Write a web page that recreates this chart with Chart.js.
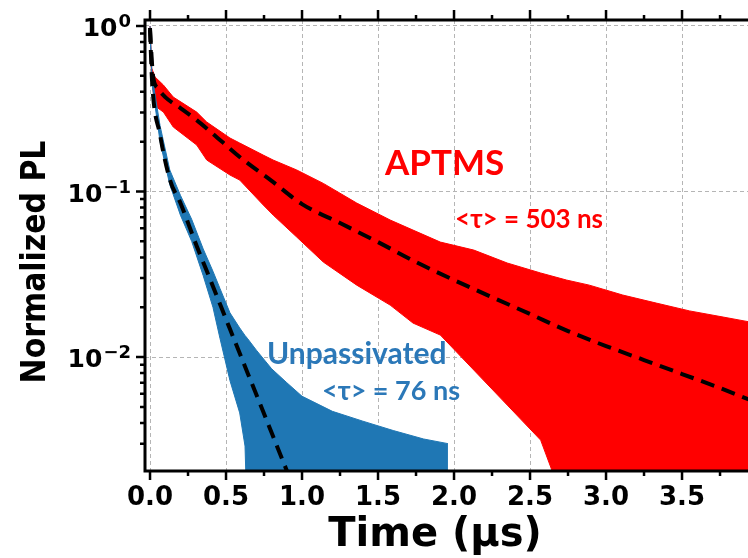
<!DOCTYPE html>
<html>
<head>
<meta charset="utf-8">
<script src="https://cdn.jsdelivr.net/npm/chart.js@4.4.0/dist/chart.umd.min.js"></script>
<style>
body { margin: 0; background: #fff; }
canvas { display: block; }
</style>
</head>
<body>
<canvas id="c" width="748" height="558"></canvas>
<script>
// APTMS decay, noise band (upper / lower edge)
var redTime  = [0, 0.011, 0.033, 0.088, 0.153, 0.307, 0.373, 0.526, 0.59, 0.745, 0.81, 0.965, 1.14, 1.36, 1.58, 1.73, 1.91, 2.13, 2.35, 2.57, 2.74, 2.89, 3.11, 3.33, 3.55, 3.77, 3.95];
var redUpper = [1.0, 0.557, 0.492, 0.44, 0.372, 0.302, 0.263, 0.2105, 0.1964, 0.166, 0.155, 0.135, 0.112, 0.0852, 0.0673, 0.0585, 0.0495, 0.0443, 0.037, 0.0322, 0.0292, 0.0272, 0.0237, 0.0212, 0.019, 0.01745, 0.01627];
var redLower = [0.946, 0.472, 0.3286, 0.302, 0.2453, 0.191, 0.155, 0.1258, 0.1173, 0.0829, 0.0721, 0.0531, 0.0375, 0.0272, 0.0206, 0.01605, 0.01358, 0.00835, 0.00513, 0.00315, 0.0012, 0.001, 0.001, 0.001, 0.001, 0.001, 0.001];

// unpassivated decay
var blueTime  = [0, 0.013, 0.066, 0.13, 0.2, 0.274, 0.35, 0.414, 0.46, 0.526, 0.59, 0.625, 0.64, 0.7, 0.8, 0.9, 1.0, 1.2, 1.4, 1.6, 1.8, 1.96];
var blueUpper = [1.0, 0.5, 0.25, 0.135, 0.095, 0.068, 0.045, 0.033, 0.026, 0.0185, 0.015, 0.0135, 0.013, 0.011, 0.0085, 0.007, 0.0058, 0.0047, 0.0041, 0.0036, 0.0032, 0.003];
var blueLower = [0.93, 0.45, 0.2, 0.11, 0.072, 0.05, 0.031, 0.02, 0.013, 0.0072, 0.0046, 0.0029, 0.001, 0.001, 0.001, 0.001, 0.001, 0.001, 0.001, 0.001, 0.001, 0.001];

// fits (dashed)
var redFitTime = [0, 0.02, 0.05, 0.1, 0.2, 0.307, 0.4, 0.6, 0.8, 1.0, 1.25, 1.5, 1.75, 2.0, 2.25, 2.5, 2.75, 3.0, 3.25, 3.5, 3.75, 3.95];
var redFit     = [0.946, 0.499, 0.422, 0.372, 0.3195, 0.27, 0.229, 0.159, 0.116, 0.084, 0.0645, 0.0495, 0.0375, 0.0292, 0.023, 0.0182, 0.01436, 0.01165, 0.0096, 0.0079, 0.0065, 0.0055];
var blueFitTime = [0, 0.013, 0.066, 0.132, 0.2, 0.307, 0.4, 0.526, 0.743, 0.901, 0.95];
var blueFit     = [0.973, 0.472, 0.22, 0.117, 0.0852, 0.0469, 0.0288, 0.01476, 0.00472, 0.00205, 0.0016];

// axes
var xTicks = [0, 0.5, 1.0, 1.5, 2.0, 2.5, 3.0, 3.5];
var xMinorTicks = [0.25, 0.75, 1.25, 1.75, 2.25, 2.75, 3.25, 3.75];
var yTicks = [0.01, 0.1, 1];
var yTickExp = ['\u22122', '\u22121', '0'];
var yMinorTicks = [0.003, 0.004, 0.005, 0.006, 0.007, 0.008, 0.009,
                   0.02, 0.03, 0.04, 0.05, 0.06, 0.07, 0.08, 0.09,
                   0.2, 0.3, 0.4, 0.5, 0.6, 0.7, 0.8, 0.9];
var xTitle = 'Time (\u00B5s)';
var yTitle = 'Normalized PL';

// text in the plot: [text, time, value, colour, size]
var notes = [
    ['APTMS', 1.546, 0.1258, '#ff0000', 35],
    ['<\u03C4> = 503 ns', 2.007, 0.0602, '#ff0000', 26],
    ['Unpassivated', 0.77, 0.00907, '#2b78b8', 30],
    ['<\u03C4> = 76 ns', 1.132, 0.0055, '#2b78b8', 27]
];

function pts(xs, ys) {
    return xs.map(function (x, i) { return {x: x, y: ys[i]}; });
}

var RED = '#ff0000';
var BLUE = '#1f77b4';
var FONT = "'DejaVu Sans', sans-serif";

var frame = {
    id: 'frame',
    afterDatasetsDraw: function (chart) {
        var ctx = chart.ctx, a = chart.chartArea;
        var xs = chart.scales.x, ys = chart.scales.y;
        ctx.save();
        ctx.strokeStyle = '#000';
        ctx.lineWidth = 3;
        ctx.beginPath();
        ctx.moveTo(a.left, a.bottom + 1.5); ctx.lineTo(a.left, a.top - 1.5);
        ctx.moveTo(a.left - 1.5, a.top); ctx.lineTo(a.right, a.top);
        ctx.moveTo(a.left - 1.5, a.bottom); ctx.lineTo(a.right, a.bottom);
        ctx.stroke();

        ctx.lineWidth = 2.5;
        ctx.beginPath();
        xTicks.forEach(function (v) {
            var p = xs.getPixelForValue(v);
            ctx.moveTo(p, a.bottom); ctx.lineTo(p, a.bottom + 9);
            ctx.moveTo(p, a.top); ctx.lineTo(p, a.top - 10);
        });
        xMinorTicks.forEach(function (v) {
            var p = xs.getPixelForValue(v);
            ctx.moveTo(p, a.bottom); ctx.lineTo(p, a.bottom + 5);
            ctx.moveTo(p, a.top); ctx.lineTo(p, a.top - 5);
        });
        yTicks.forEach(function (v) {
            var p = ys.getPixelForValue(v);
            ctx.moveTo(a.left, p); ctx.lineTo(a.left - 9, p);
        });
        yMinorTicks.forEach(function (v) {
            var p = ys.getPixelForValue(v);
            ctx.moveTo(a.left, p); ctx.lineTo(a.left - 5, p);
        });
        ctx.stroke();

        // y tick labels as 10 with a raised exponent
        ctx.fillStyle = '#000';
        ctx.textAlign = 'right';
        ctx.textBaseline = 'alphabetic';
        yTicks.forEach(function (v, i) {
            var p = ys.getPixelForValue(v);
            var xr = a.left - 14;
            ctx.font = 'bold 18px ' + FONT;
            ctx.fillText(yTickExp[i], xr, p + 1);
            var w = ctx.measureText(yTickExp[i]).width;
            ctx.font = 'bold 25px ' + FONT;
            ctx.fillText('10', xr - w - 1, p + 10);
        });

        // axis titles
        ctx.textAlign = 'center';
        ctx.font = 'bold 40px ' + FONT;
        ctx.fillText(xTitle, 435, 546);
        ctx.save();
        ctx.translate(45, 262);
        ctx.rotate(-Math.PI / 2);
        ctx.scale(0.88, 1);
        ctx.font = 'bold 34px ' + FONT;
        ctx.fillText(yTitle, 0, 0);
        ctx.restore();

        notes.forEach(function (n) {
            ctx.fillStyle = n[3];
            ctx.font = 'bold ' + n[4] + "px Lato, 'Open Sans', sans-serif";
            ctx.textAlign = 'left';
            ctx.textBaseline = 'alphabetic';
            ctx.fillText(n[0], xs.getPixelForValue(n[1]), ys.getPixelForValue(n[2]));
        });
        ctx.restore();
    }
};

var ctx = document.getElementById('c');
var chart = new Chart(ctx, {
    type: 'line',
    data: {
        datasets: [
            { data: pts(redFitTime, redFit), borderColor: '#000', borderWidth: 4, borderDash: [14, 8],
              cubicInterpolationMode: 'monotone', fill: false, order: 0 },
            { data: pts(blueFitTime, blueFit), borderColor: '#000', borderWidth: 4, borderDash: [14, 8],
              cubicInterpolationMode: 'monotone', fill: false, order: 0 },
            { data: pts(blueTime, blueUpper), borderColor: BLUE, backgroundColor: BLUE, borderWidth: 1,
              fill: '+1', order: 1 },
            { data: pts(blueTime, blueLower), borderColor: BLUE, borderWidth: 1, fill: false, order: 1 },
            { data: pts(redTime, redUpper), borderColor: RED, backgroundColor: RED, borderWidth: 1,
              fill: '+1', order: 2 },
            { data: pts(redTime, redLower), borderColor: RED, borderWidth: 1, fill: false, order: 2 }
        ]
    },
    options: {
        responsive: false,
        animation: false,
        events: [],
        layout: { padding: { top: 20, right: 0, left: 0, bottom: 0 } },
        elements: { point: { radius: 0 }, line: { tension: 0 } },
        plugins: { legend: { display: false }, tooltip: { enabled: false } },
        scales: {
            x: {
                type: 'linear',
                min: -0.033,
                max: 3.934,
                afterFit: function (s) { s.height = 87; },
                afterBuildTicks: function (s) { s.ticks = xTicks.map(function (v) { return {value: v}; }); },
                ticks: {
                    padding: 12,
                    color: '#000',
                    font: { family: FONT, weight: 'bold', size: 26 },
                    maxRotation: 0,
                    callback: function (v) { return v.toFixed(1); }
                },
                grid: { color: '#b5b5b5', lineWidth: 1, drawTicks: false },
                border: { display: false, dash: [4, 3] }
            },
            y: {
                type: 'logarithmic',
                min: 0.00205,
                max: 1.087,
                afterFit: function (s) { s.width = 145; },
                afterBuildTicks: function (s) { s.ticks = yTicks.map(function (v) { return {value: v}; }); },
                ticks: { display: false },
                grid: { color: '#b5b5b5', lineWidth: 1, drawTicks: false },
                border: { display: false, dash: [4, 3] }
            }
        }
    },
    plugins: [frame]
});
</script>
</body>
</html>
